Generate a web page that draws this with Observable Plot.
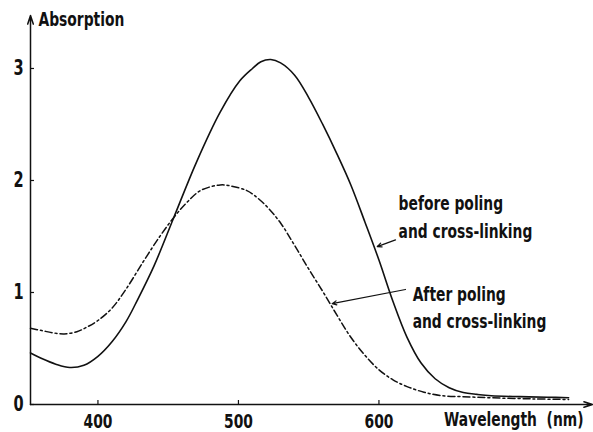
<!DOCTYPE html>
<html><head><meta charset="utf-8">
<script src="https://cdn.jsdelivr.net/npm/d3@7"></script>
<script src="https://cdn.jsdelivr.net/npm/@observablehq/plot@0.6"></script>
<style>
html,body{margin:0;padding:0;background:#fff;}
#chart svg{display:block;}
</style></head><body><div id="chart"></div>
<script>
// Data
const beforeWl  = [352, 360, 370, 380, 390, 400, 410, 420, 428, 440, 454, 470, 487, 501, 510, 516, 523, 530, 540, 550, 560, 570, 580, 590, 600, 610, 620, 630, 640, 650, 660, 670, 680, 700, 720, 735];
const beforeAbs = [0.46, 0.41, 0.36, 0.33, 0.35, 0.43, 0.56, 0.74, 0.93, 1.24, 1.67, 2.16, 2.61, 2.89, 3.00, 3.06, 3.08, 3.05, 2.94, 2.74, 2.50, 2.24, 1.96, 1.63, 1.29, 0.92, 0.60, 0.37, 0.23, 0.15, 0.107, 0.09, 0.078, 0.07, 0.065, 0.06];
const afterWl  = [352, 360, 368, 376, 385, 392, 400, 410, 420, 432, 444, 454, 463, 473, 487, 495, 506, 511, 520, 530, 540, 550, 560, 570, 580, 590, 600, 610, 620, 632, 644, 660, 680, 710, 735];
const afterAbs = [0.68, 0.66, 0.64, 0.63, 0.65, 0.69, 0.75, 0.86, 1.03, 1.27, 1.50, 1.67, 1.80, 1.91, 1.96, 1.95, 1.91, 1.87, 1.77, 1.62, 1.42, 1.21, 1.01, 0.80, 0.60, 0.44, 0.31, 0.22, 0.16, 0.11, 0.08, 0.07, 0.06, 0.05, 0.045];

const xTicks = [400, 500, 600];
const yTicks = [0, 1, 2, 3];
const xDomain = [352, 752];
const yDomain = [0, 3.473];
const xLabel = "Wavelength  (nm)";
const yLabel = "Absorption";

const labelTexts = ["before poling", "and cross-linking", "After poling", "and cross-linking"];
const labelWl  = [614, 614, 624, 624];
const labelAbs = [1.798, 1.548, 0.977, 0.736];
const arrowFromWl  = [611.8, 618.9];
const arrowFromAbs = [1.47, 1.027];
const arrowToWl    = [598.8, 566.7];
const arrowToAbs   = [1.41, 0.90];

const before = beforeWl.map((w, i) => ({w, a: beforeAbs[i]}));
const after = afterWl.map((w, i) => ({w, a: afterAbs[i]}));
const labels = labelTexts.map((t, i) => ({t, w: labelWl[i], a: labelAbs[i]}));
const arrows = arrowFromWl.map((w, i) => ({x1: w, y1: arrowFromAbs[i], x2: arrowToWl[i], y2: arrowToAbs[i]}));
const axes = [
  {x1: xDomain[0], y1: yDomain[0], x2: xDomain[0], y2: yDomain[1]},
  {x1: xDomain[0], y1: yDomain[0], x2: xDomain[1], y2: yDomain[0]}
];

const ink = "#111";
const chart = Plot.plot({
  width: 593,
  height: 432,
  marginLeft: 30,
  marginRight: 1,
  marginTop: 15,
  marginBottom: 28,
  style: {fontFamily: "'Liberation Sans Narrow', 'DejaVu Sans Condensed', sans-serif", fontSize: "20px", fontWeight: "bold", color: ink, background: "#fff"},
  x: {domain: xDomain},
  y: {domain: yDomain},
  marks: [
    Plot.axisX(xTicks, {tickSize: -4, tickPadding: 13, label: null, stroke: ink, strokeWidth: 1.2, tickFormat: d3.format("d")}),
    Plot.axisY(yTicks, {tickSize: -4, tickPadding: 11, label: null, stroke: ink, strokeWidth: 1.2, tickFormat: d3.format("d"), fontSize: 21}),
    Plot.arrow(axes, {x1: "x1", y1: "y1", x2: "x2", y2: "y2", stroke: ink, strokeWidth: 1.5, headLength: 9, headAngle: 36}),
    Plot.line(before, {x: "w", y: "a", curve: "catmull-rom", stroke: ink, strokeWidth: 1.6}),
    Plot.line(after, {x: "w", y: "a", curve: "catmull-rom", stroke: ink, strokeWidth: 1.5, strokeDasharray: "7,3,2,3"}),
    Plot.arrow(arrows, {x1: "x1", y1: "y1", x2: "x2", y2: "y2", stroke: ink, strokeWidth: 1.2, headLength: 6, headAngle: 50}),
    Plot.text(labels, {x: "w", y: "a", text: "t", textAnchor: "start", lineAnchor: "middle", fill: ink}),
    Plot.text([yLabel], {frameAnchor: "top-left", dx: 8, dy: 3.6, lineAnchor: "middle", textAnchor: "start", fill: ink}),
    Plot.text([xLabel], {frameAnchor: "bottom-right", dx: -9, dy: 14.8, lineAnchor: "middle", textAnchor: "end", fill: ink})
  ]
});
document.getElementById("chart").appendChild(chart);

// Narrow the glyphs (about their anchor point) to match the condensed typeface of the original
const shrink = 0.77;
d3.select(chart).selectAll("text").each(function () {
  const t = this.getAttribute("transform") || "";
  const ax = +(this.getAttribute("x") || 0);
  this.setAttribute("transform", `${t} translate(${ax},0) scale(${shrink},1) translate(${-ax},0)`);
});
</script>
</body></html>
